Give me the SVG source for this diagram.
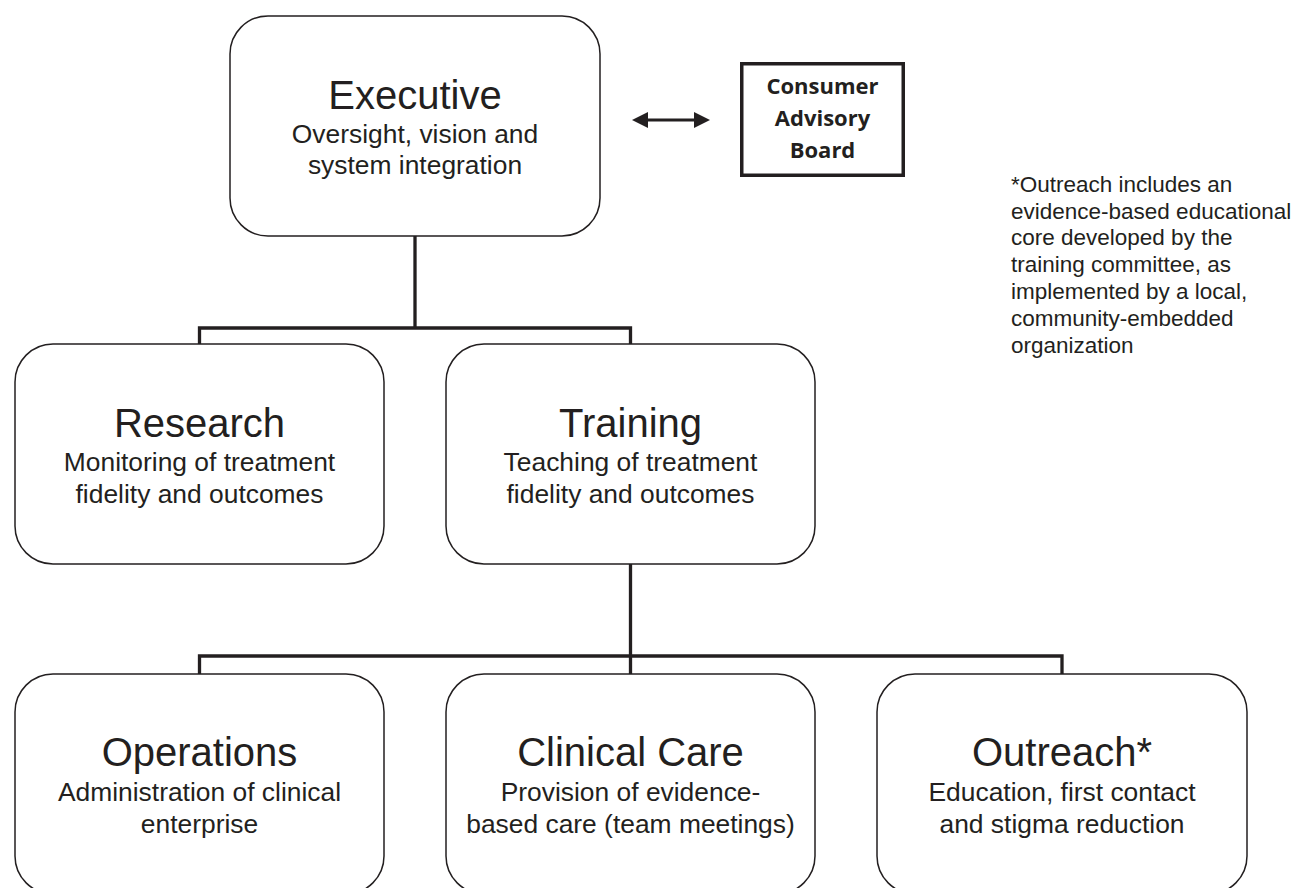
<svg xmlns="http://www.w3.org/2000/svg" width="1296" height="888" viewBox="0 0 1296 888">
  <style>
    .box { fill: #ffffff; stroke: #231f20; stroke-width: 1.5; }
    .title { font-family: "Liberation Sans", Arial, sans-serif; font-size: 40px; fill: #231f20; text-anchor: middle; }
    .sub { font-family: "Liberation Sans", Arial, sans-serif; font-size: 26.4px; fill: #231f20; text-anchor: middle; }
    .cab { font-family: "Open Sans", "Liberation Sans", sans-serif; font-weight: bold; font-size: 22px; fill: #231f20; text-anchor: middle; }
    .note { font-family: "Liberation Sans", Arial, sans-serif; font-size: 22.5px; fill: #231f20; }
    .conn { fill: none; stroke: #231f20; stroke-width: 3.3; stroke-linecap: butt; stroke-linejoin: miter; }
  </style>
  <defs>
    <marker id="ah" viewBox="0 0 16 16" refX="8" refY="8" markerWidth="16" markerHeight="16" markerUnits="userSpaceOnUse" orient="auto-start-reverse">
      <path d="M0,0 L16,8 L0,16 Z" fill="#231f20"/>
    </marker>
  </defs>
  <rect width="1296" height="888" fill="#ffffff"/>

  <g id="connectors">
    <path class="conn" d="M415,236 V328 M199.5,344 V328 H630.5 V344"/>
    <path class="conn" d="M630.5,564 V656 M199.5,674 V656 H1062 V674 M630.5,656 V674"/>
    <path class="conn" d="M640,120 H702" marker-start="url(#ah)" marker-end="url(#ah)" style="stroke-width:3"/>
  </g>

  <g id="executive">
    <rect class="box" x="230" y="16" width="370" height="220" rx="38" ry="38"/>
    <text class="title" x="415" y="109">Executive</text>
    <text class="sub" x="415" y="143">Oversight, vision and</text>
    <text class="sub" x="415" y="174">system integration</text>
  </g>

  <g id="consumer-advisory-board">
    <rect x="741.75" y="63.75" width="161.5" height="111.5" fill="#ffffff" stroke="#231f20" stroke-width="3.5"/>
    <text class="cab" x="822.5" y="94">Consumer</text>
    <text class="cab" x="822.5" y="126">Advisory</text>
    <text class="cab" x="822.5" y="158">Board</text>
  </g>

  <g id="research">
    <rect class="box" x="15" y="344" width="369" height="220" rx="38" ry="38"/>
    <text class="title" x="199.5" y="437">Research</text>
    <text class="sub" x="199.5" y="471">Monitoring of treatment</text>
    <text class="sub" x="199.5" y="503">fidelity and outcomes</text>
  </g>

  <g id="training">
    <rect class="box" x="446" y="344" width="369" height="220" rx="38" ry="38"/>
    <text class="title" x="630.5" y="437">Training</text>
    <text class="sub" x="630.5" y="471">Teaching of treatment</text>
    <text class="sub" x="630.5" y="503">fidelity and outcomes</text>
  </g>

  <g id="operations">
    <rect class="box" x="15" y="674" width="369" height="220" rx="38" ry="38"/>
    <text class="title" x="199.5" y="766">Operations</text>
    <text class="sub" x="199.5" y="801">Administration of clinical</text>
    <text class="sub" x="199.5" y="833">enterprise</text>
  </g>

  <g id="clinical-care">
    <rect class="box" x="446" y="674" width="369" height="220" rx="38" ry="38"/>
    <text class="title" x="630.5" y="766">Clinical Care</text>
    <text class="sub" x="630.5" y="801">Provision of evidence-</text>
    <text class="sub" x="630.5" y="833">based care (team meetings)</text>
  </g>

  <g id="outreach">
    <rect class="box" x="877" y="674" width="370" height="220" rx="38" ry="38"/>
    <text class="title" x="1062" y="766">Outreach*</text>
    <text class="sub" x="1062" y="801">Education, first contact</text>
    <text class="sub" x="1062" y="833">and stigma reduction</text>
  </g>

  <g id="note">
    <text class="note" x="1011" y="191.7">*Outreach includes an</text>
    <text class="note" x="1011" y="218.5">evidence-based educational</text>
    <text class="note" x="1011" y="245.3">core developed by the</text>
    <text class="note" x="1011" y="272.1">training committee, as</text>
    <text class="note" x="1011" y="298.9">implemented by a local,</text>
    <text class="note" x="1011" y="325.7">community-embedded</text>
    <text class="note" x="1011" y="352.5">organization</text>
  </g>
</svg>
